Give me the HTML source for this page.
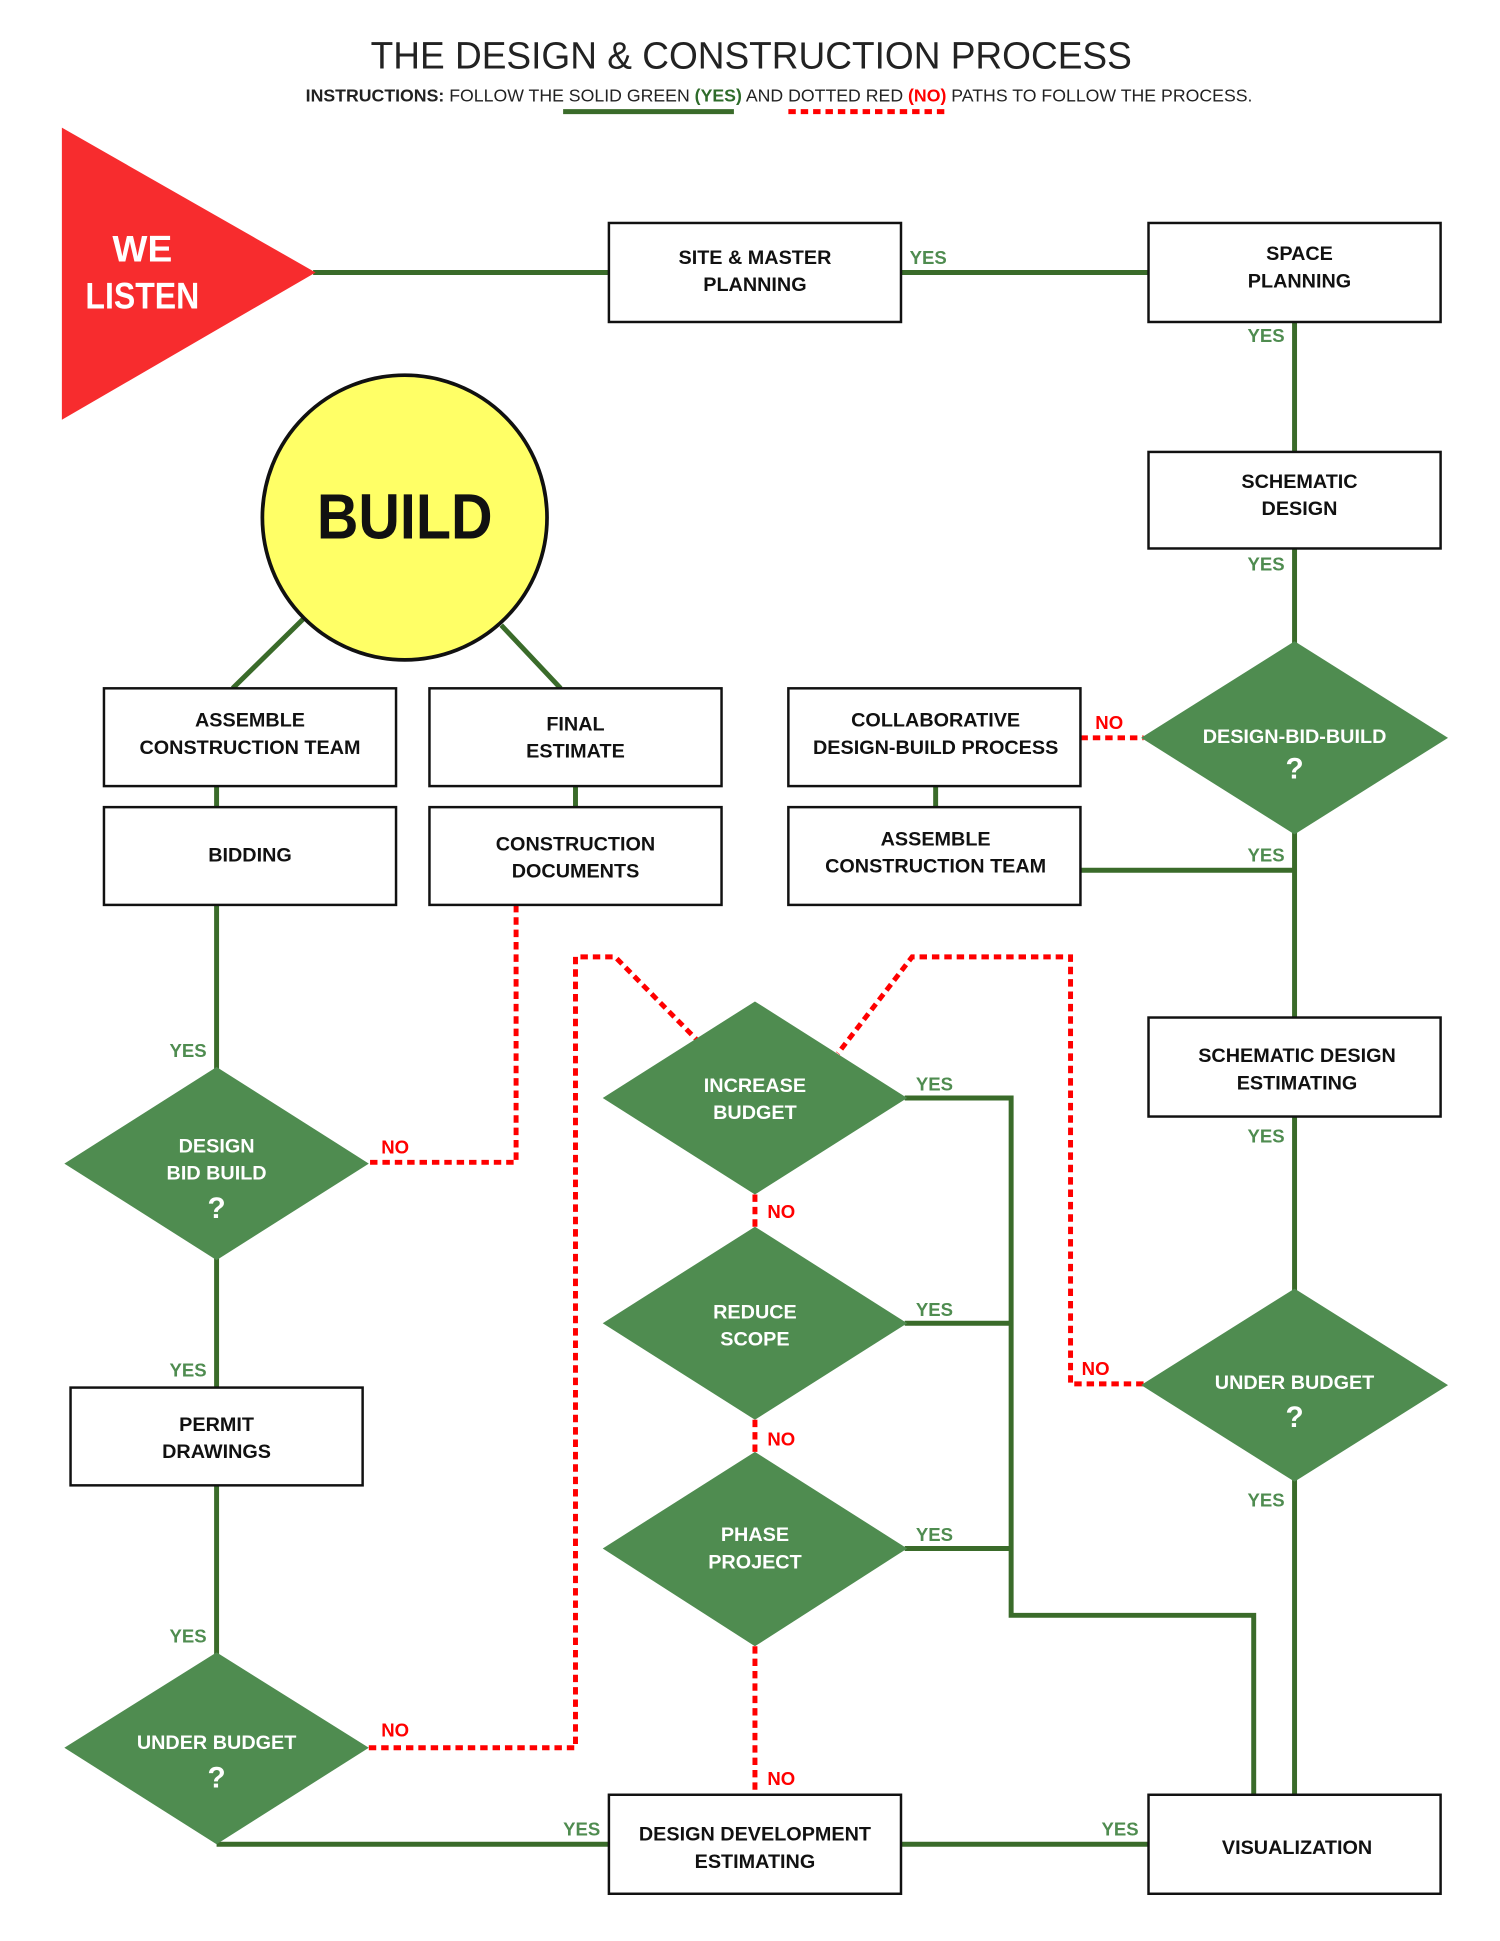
<!DOCTYPE html>
<html><head><meta charset="utf-8"><style>
html,body{margin:0;padding:0;background:#fff}
svg{display:block}
text{font-family:"Liberation Sans",sans-serif}
.bt{font-size:16px;font-weight:bold;fill:#111;text-anchor:middle}
.dt{font-size:16px;font-weight:bold;fill:#fff;text-anchor:middle}
.q{font-size:24px;font-weight:bold;fill:#fff;text-anchor:middle}
.y{font-size:15px;font-weight:bold;fill:#4f8c50}
.n{font-size:15px;font-weight:bold;fill:#ff0000}
.box{fill:#fff;stroke:#111;stroke-width:2}
.dm{fill:#4f8c50}
.g{stroke:#3a6b2a;stroke-width:4;fill:none}
.r{stroke:#ff0000;stroke-width:4;fill:none;stroke-dasharray:6 4}
</style></head><body>
<svg width="1500" height="1941" viewBox="0 0 1212 1568" xmlns="http://www.w3.org/2000/svg">
<text x="607" y="55" text-anchor="middle" font-size="31" fill="#222" textLength="615" lengthAdjust="spacingAndGlyphs">THE DESIGN &amp; CONSTRUCTION PROCESS</text>
<text x="247" y="82" font-size="14" fill="#222" textLength="765" lengthAdjust="spacingAndGlyphs"><tspan font-weight="bold">INSTRUCTIONS:</tspan> FOLLOW THE SOLID GREEN <tspan fill="#2e6b2a" font-weight="bold">(YES)</tspan> AND DOTTED RED <tspan fill="#ff0000" font-weight="bold">(NO)</tspan> PATHS TO FOLLOW THE PROCESS.</text>
<line x1="455" y1="90" x2="593" y2="90" class="g"/>
<line x1="637" y1="90" x2="767" y2="90" class="r"/>

<g class="g">
<line x1="253" y1="220" x2="492" y2="220"/>
<line x1="728" y1="220" x2="928" y2="220"/>
<line x1="1046" y1="260" x2="1046" y2="365"/>
<line x1="1046" y1="443" x2="1046" y2="520"/>
<line x1="1046" y1="672" x2="1046" y2="822"/>
<line x1="873" y1="703" x2="1046" y2="703"/>
<line x1="756" y1="635" x2="756" y2="652"/>
<line x1="1046" y1="902" x2="1046" y2="1043"/>
<line x1="1046" y1="1195" x2="1046" y2="1450"/>
<line x1="245" y1="500" x2="188" y2="556"/>
<line x1="405" y1="505" x2="453" y2="556"/>
<line x1="175" y1="635" x2="175" y2="652"/>
<line x1="465" y1="635" x2="465" y2="652"/>
<line x1="175" y1="731" x2="175" y2="864"/>
<line x1="175" y1="1016" x2="175" y2="1121"/>
<line x1="175" y1="1200" x2="175" y2="1337"/>
<polyline points="175,1490 492,1490"/>
<line x1="728" y1="1490" x2="928" y2="1490"/>
<polyline points="731,887 817,887 817,1305 1013,1305 1013,1450"/>
<line x1="731" y1="1069" x2="817" y2="1069"/>
<line x1="731" y1="1251" x2="817" y2="1251"/>
</g>
<g class="r">
<line x1="873" y1="596" x2="924" y2="596"/>
<polyline points="924,1118 865,1118 865,773 737,773 677,851"/>
<polyline points="417,731 417,939 298,939"/>
<polyline points="298,1412 465,1412 465,773 497,773 563,840"/>
<line x1="610" y1="965" x2="610" y2="991"/>
<line x1="610" y1="1147" x2="610" y2="1173"/>
<line x1="610" y1="1330" x2="610" y2="1450"/>
</g>

<polygon points="50,103 255,220 50,339" fill="#f72c2e"/>
<text x="115" y="211" font-size="30" font-weight="bold" fill="#fff" text-anchor="middle">WE</text>
<text x="115" y="249" font-size="30" font-weight="bold" fill="#fff" text-anchor="middle" textLength="92" lengthAdjust="spacingAndGlyphs">LISTEN</text>

<circle cx="327" cy="418" r="115" fill="#ffff66" stroke="#111" stroke-width="3"/>
<text x="327" y="435" font-size="52" font-weight="bold" fill="#111" text-anchor="middle" textLength="142" lengthAdjust="spacingAndGlyphs">BUILD</text>

<rect class="box" x="492" y="180" width="236" height="80"/>
<text class="bt" x="610" y="213">SITE &amp; MASTER</text><text class="bt" x="610" y="235">PLANNING</text>
<rect class="box" x="928" y="180" width="236" height="80"/>
<text class="bt" x="1050" y="210">SPACE</text><text class="bt" x="1050" y="232">PLANNING</text>
<rect class="box" x="928" y="365" width="236" height="78"/>
<text class="bt" x="1050" y="394">SCHEMATIC</text><text class="bt" x="1050" y="416">DESIGN</text>
<rect class="box" x="637" y="556" width="236" height="79"/>
<text class="bt" x="756" y="587">COLLABORATIVE</text><text class="bt" x="756" y="609">DESIGN-BUILD PROCESS</text>
<rect class="box" x="637" y="652" width="236" height="79"/>
<text class="bt" x="756" y="683">ASSEMBLE</text><text class="bt" x="756" y="705">CONSTRUCTION TEAM</text>
<rect class="box" x="928" y="822" width="236" height="80"/>
<text class="bt" x="1048" y="858">SCHEMATIC DESIGN</text><text class="bt" x="1048" y="880">ESTIMATING</text>
<rect class="box" x="928" y="1450" width="236" height="80"/>
<text class="bt" x="1048" y="1498">VISUALIZATION</text>
<rect class="box" x="84" y="556" width="236" height="79"/>
<text class="bt" x="202" y="587">ASSEMBLE</text><text class="bt" x="202" y="609">CONSTRUCTION TEAM</text>
<rect class="box" x="347" y="556" width="236" height="79"/>
<text class="bt" x="465" y="590">FINAL</text><text class="bt" x="465" y="612">ESTIMATE</text>
<rect class="box" x="84" y="652" width="236" height="79"/>
<text class="bt" x="202" y="696">BIDDING</text>
<rect class="box" x="347" y="652" width="236" height="79"/>
<text class="bt" x="465" y="687">CONSTRUCTION</text><text class="bt" x="465" y="709">DOCUMENTS</text>
<rect class="box" x="57" y="1121" width="236" height="79"/>
<text class="bt" x="175" y="1156">PERMIT</text><text class="bt" x="175" y="1178">DRAWINGS</text>
<rect class="box" x="492" y="1450" width="236" height="80"/>
<text class="bt" x="610" y="1487">DESIGN DEVELOPMENT</text><text class="bt" x="610" y="1509">ESTIMATING</text>

<polygon class="dm" points="1046,518 1170,596 1046,674 922,596"/>
<text class="dt" x="1046" y="600">DESIGN-BID-BUILD</text><text class="q" x="1046" y="629">?</text>
<polygon class="dm" points="1046,1041 1170,1119 1046,1197 922,1119"/>
<text class="dt" x="1046" y="1122">UNDER BUDGET</text><text class="q" x="1046" y="1153">?</text>
<polygon class="dm" points="175,862 298,940 175,1018 52,940"/>
<text class="dt" x="175" y="931">DESIGN</text><text class="dt" x="175" y="953">BID BUILD</text><text class="q" x="175" y="984">?</text>
<polygon class="dm" points="175,1335 298,1412 175,1490 52,1412"/>
<text class="dt" x="175" y="1413">UNDER BUDGET</text><text class="q" x="175" y="1444">?</text>
<polygon class="dm" points="610,809 733,887 610,965 487,887"/>
<text class="dt" x="610" y="882">INCREASE</text><text class="dt" x="610" y="904">BUDGET</text>
<polygon class="dm" points="610,991 733,1069 610,1147 487,1069"/>
<text class="dt" x="610" y="1065">REDUCE</text><text class="dt" x="610" y="1087">SCOPE</text>
<polygon class="dm" points="610,1173 733,1251 610,1330 487,1251"/>
<text class="dt" x="610" y="1245">PHASE</text><text class="dt" x="610" y="1267">PROJECT</text>

<text class="y" x="735" y="213">YES</text>
<text class="y" x="1008" y="276">YES</text>
<text class="y" x="1008" y="461">YES</text>
<text class="y" x="1008" y="696">YES</text>
<text class="y" x="1008" y="923">YES</text>
<text class="y" x="1008" y="1217">YES</text>
<text class="y" x="137" y="854">YES</text>
<text class="y" x="137" y="1112">YES</text>
<text class="y" x="137" y="1327">YES</text>
<text class="y" x="455" y="1483">YES</text>
<text class="y" x="890" y="1483">YES</text>
<text class="y" x="740" y="881">YES</text>
<text class="y" x="740" y="1063">YES</text>
<text class="y" x="740" y="1245">YES</text>
<text class="n" x="885" y="589">NO</text>
<text class="n" x="874" y="1111">NO</text>
<text class="n" x="308" y="932">NO</text>
<text class="n" x="308" y="1403">NO</text>
<text class="n" x="620" y="984">NO</text>
<text class="n" x="620" y="1168">NO</text>
<text class="n" x="620" y="1442">NO</text>
</svg>
</body></html>
